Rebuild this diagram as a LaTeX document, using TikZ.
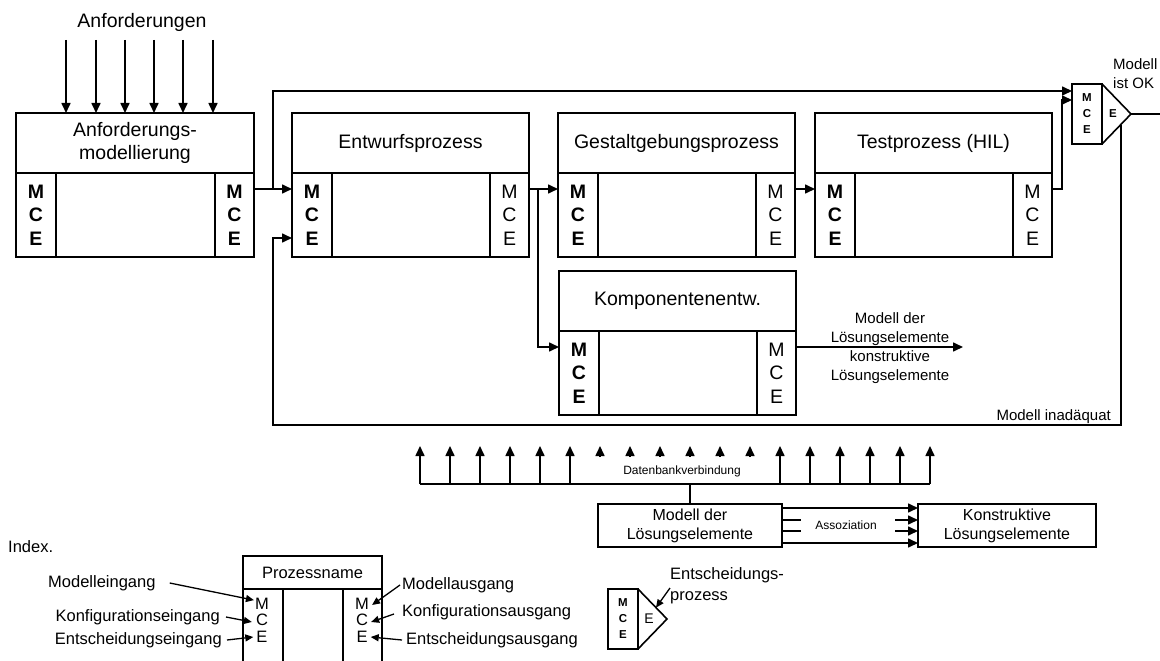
\documentclass[tikz,border=0pt]{standalone}
\usepackage{fontspec}
\setmainfont{Liberation Sans}
\usetikzlibrary{arrows.meta,calc}

\newcommand\fsMain{\fontsize{19.5pt}{23.5pt}\selectfont}
\newcommand\fsLab{\fontsize{15pt}{19pt}\selectfont}
\newcommand\fsBox{\fontsize{16pt}{19pt}\selectfont}
\newcommand\fsLeg{\fontsize{16.5pt}{20pt}\selectfont}
\newcommand\fsLegTwo{\fontsize{16.5pt}{21pt}\selectfont}
\newcommand\fsSmall{\fontsize{12pt}{14pt}\selectfont}
\newcommand\fsDec{\fontsize{11.5pt}{16pt}\selectfont}
\newcommand\fsDecE{\fontsize{14pt}{16pt}\selectfont}

\tikzset{
  pbox/.style={draw, line width=1.6pt, inner sep=0pt, outer sep=0pt, align=center, fill=white},
  conn/.style={line width=1.6pt},
  arr/.style={line width=1.6pt, -{Triangle[length=10pt,width=9pt]}},
  larr/.style={line width=1.3pt, -{Triangle[length=8pt,width=7pt]}},
  lab/.style={font=\fsLab, inner sep=0pt},
  leg/.style={font=\fsLeg, inner sep=0pt},
}

% process block: name, left, top, right, header bottom, bottom, title, font of right column
\newcommand\procbox[8]{%
  \pgfmathsetmacro\pbW{#4-#2}%
  \pgfmathsetmacro\pbHh{#5-#3}%
  \pgfmathsetmacro\pbHb{#6-#5}%
  \node[pbox, font=\fsMain, minimum width=\pbW pt, minimum height=\pbHh pt, anchor=north west] (#1-h) at (#2,#3) {#7};
  \node[pbox, minimum width=\pbW pt, minimum height=\pbHb pt, anchor=north west] (#1-b) at (#2,#5) {};
  \node[pbox, font=\fsMain\bfseries, minimum width=40pt, minimum height=\pbHb pt, anchor=north west] (#1-l) at (#2,#5) {M\\C\\E};
  \node[pbox, font=\fsMain#8, minimum width=39pt, minimum height=\pbHb pt, anchor=north east] (#1-r) at (#4,#5) {M\\C\\E};
  \coordinate (#1-mi) at (#2,#5+16);
  \coordinate (#1-ei) at (#2,#5+65);
  \coordinate (#1-mo) at (#4,#5+16);
}

% decision block: name, left, top, font of M/C/E, font of E in the triangle
\newcommand\decbox[5]{%
  \node[pbox, font=#4, minimum width=30pt, minimum height=60pt, anchor=north west] (#1) at (#2,#3) {M\\C\\E};
  \draw[conn] (#1.north east) -- (#2+59,#3+30) coordinate (#1-tip) -- (#1.south east);
  \node[font=#5, inner sep=0pt] (#1-e) at (#2+41,#3+30) {E};
}

\begin{document}
\begin{tikzpicture}[x=1pt,y=-1pt]
\useasboundingbox (0,0) rectangle (1160,661);
\clip (0,0) rectangle (1160,661);

% ---------- requirements ----------
\node[font=\fsMain, inner sep=0pt] (anfo) at (142,22) {Anforderungen};

% ---------- process chain ----------
\procbox{anf}{16}{113}{254}{173}{257}{Anforderungs-\\modellierung}{\bfseries}
\procbox{entw}{292}{113}{529}{173}{257}{Entwurfsprozess}{}
\procbox{gest}{558}{113}{795}{173}{257}{Gestaltgebungsprozess}{}
\procbox{test}{815}{113}{1052}{173}{257}{Testprozess (HIL)}{}
\procbox{komp}{559}{271}{796}{331}{415}{Komponentenentw.}{}

\decbox{dec}{1072}{84}{\fsDec\bfseries}{\fsDec\bfseries}

\foreach \x in {66,96,125,154,183,213}
  \draw[arr] (\x,40) -- (\x,0 |- anf-h.north);

\coordinate (split1) at (273,189);
\coordinate (split2) at (538,189);
\coordinate (fb) at (1121,125);
\coordinate (fbc) at (273,425);
\coordinate (kout) at (963,347);

\draw[arr] (anf-r.east |- entw-mi) -- (entw-mi);
\draw[arr] (split1) |- ([yshift=-7pt]dec.north west);
\draw[arr] (entw-mo) -- (gest-mi);
\draw[arr] (split2) |- (komp-mi);
\draw[arr] (gest-mo) -- (test-mi);
\draw[arr] (test-mo) -- ++(10,0) |- ([yshift=-16pt]dec.north west);
\draw[conn] (dec-tip) -- ++(40,0);
\draw[arr] (fb) |- (fbc) |- (entw-ei);
\draw[arr] (komp-mo) -- (kout);

\node[lab, anchor=north west, align=left] (mok) at (1113,58) {Modell\\ist OK};
\node[lab, anchor=base east] (minad) at (1111,420) {Modell inadäquat};
\node[lab, align=center] (klab) at (890,348) {Modell der\\Lösungselemente\\konstruktive\\Lösungselemente};

% ---------- database ----------
\coordinate (bus-w) at (420,484);
\coordinate (bus-e) at (930,484);
\draw[conn] (bus-w) -- (bus-e);
\foreach \i in {0,...,5,12,13,...,17}
  \draw[arr] (420+30*\i,484) -- (420+30*\i,446);
\foreach \i in {6,...,11}
  \draw[arr] (420+30*\i,457) -- (420+30*\i,446);
\node[font=\fsSmall, inner sep=0pt] (db) at (682,471) {Datenbankverbindung};

\node[pbox, font=\fsBox, minimum width=184pt, minimum height=43pt, anchor=north west] (mdl) at (598,504) {Modell der\\Lösungselemente};
\node[pbox, font=\fsBox, minimum width=178pt, minimum height=43pt, anchor=north west] (kon) at (918,504) {Konstruktive\\Lösungselemente};
\draw[conn] (mdl.north) -- (mdl.north |- bus-w);

\draw[arr] ([yshift=-4pt]mdl.north east) -- ([yshift=-4pt]kon.north west);
\draw[arr] ([yshift=-39pt]mdl.north east) -- ([yshift=-39pt]kon.north west);
\draw[conn] ([yshift=-16pt]mdl.north east) -- ++(19,0);
\draw[conn] ([yshift=-27pt]mdl.north east) -- ++(19,0);
\draw[arr] ([xshift=-23pt,yshift=-16pt]kon.north west) -- ([yshift=-16pt]kon.north west);
\draw[arr] ([xshift=-23pt,yshift=-27pt]kon.north west) -- ([yshift=-27pt]kon.north west);
\node[font=\fsSmall, inner sep=0pt] (asz) at (846,525) {Assoziation};

% ---------- index ----------
\node[leg, anchor=west] (idx) at (8,547) {Index.};

\node[pbox, font=\fsLeg, minimum width=139pt, minimum height=33pt, anchor=north west] (lgh) at (243,556) {Prozessname};
\draw[conn] (lgh.south west) -- ++(0,110);
\draw[conn] ([xshift=40pt]lgh.south west) -- ++(0,110);
\draw[conn] ([xshift=-39pt]lgh.south east) -- ++(0,110);
\draw[conn] (lgh.south east) -- ++(0,110);

\node[leg] (lg-lm) at (262,604) {M};
\node[leg] (lg-lc) at (262,620) {C};
\node[leg] (lg-le) at (262,637) {E};
\node[leg] (lg-rm) at (362,604) {M};
\node[leg] (lg-rc) at (362,620) {C};
\node[leg] (lg-re) at (362,637) {E};

\node[leg, anchor=west] (l-mi) at (48,583) {Modelleingang};
\node[leg, anchor=east] (l-ci) at (220,617) {Konfigurationseingang};
\node[leg, anchor=east] (l-ei) at (222,640) {Entscheidungseingang};
\node[leg, anchor=west] (l-mo) at (402,585) {Modellausgang};
\node[leg, anchor=west] (l-co) at (402,612) {Konfigurationsausgang};
\node[leg, anchor=west] (l-eo) at (406,640) {Entscheidungsausgang};

\draw[larr] ([xshift=14pt]l-mi.east) -- ([xshift=-1pt,yshift=-2pt]lg-lm.north west);
\draw[larr] ([xshift=6pt]l-ci.east) -- ([xshift=-4pt,yshift=-2pt]lg-lc.west);
\draw[larr] ([xshift=5pt]l-ei.east) -- ([xshift=-3pt]lg-le.west);
\draw[larr] ([xshift=-2pt]l-mo.west) -- ([xshift=3pt,yshift=-1pt]lg-rm.east);
\draw[larr] ([xshift=-8pt,yshift=-2pt]l-co.west) -- ([xshift=3pt,yshift=-2pt]lg-rc.east);
\draw[larr] ([xshift=-4pt]l-eo.west) -- ([xshift=3pt]lg-re.east);

\decbox{ldec}{608}{589}{\fsDec\bfseries}{\fsDecE}
\node[font=\fsLegTwo, inner sep=0pt, anchor=north west, align=left] (l-dp) at (670,567) {Entscheidungs-\\prozess};
\coordinate (ldp-s) at (670,588);
\draw[larr] (ldp-s) -- ($(ldec.north east)!0.62!(ldec-tip)$);
\end{tikzpicture}
\end{document}
